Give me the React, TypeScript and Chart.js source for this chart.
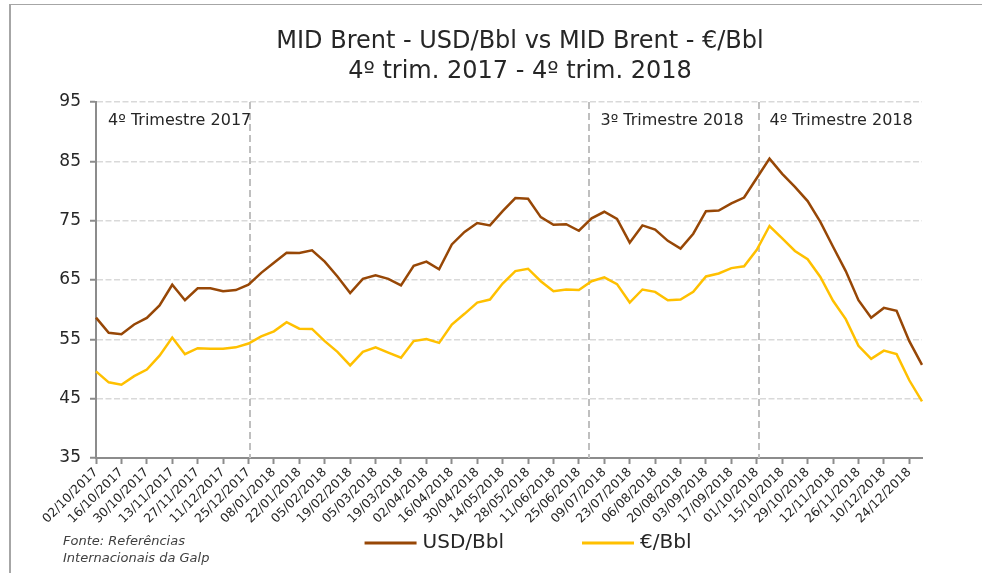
import React, { useEffect, useRef } from "react";
import { Chart, registerables } from "chart.js";

Chart.register(...registerables);

const weekLabels: string[] = [
  "02/10/2017", "09/10/2017", "16/10/2017", "23/10/2017", "30/10/2017", "06/11/2017",
  "13/11/2017", "20/11/2017", "27/11/2017", "04/12/2017", "11/12/2017", "18/12/2017",
  "25/12/2017", "01/01/2018", "08/01/2018", "15/01/2018", "22/01/2018", "29/01/2018",
  "05/02/2018", "12/02/2018", "19/02/2018", "26/02/2018", "05/03/2018", "12/03/2018",
  "19/03/2018", "26/03/2018", "02/04/2018", "09/04/2018", "16/04/2018", "23/04/2018",
  "30/04/2018", "07/05/2018", "14/05/2018", "21/05/2018", "28/05/2018", "04/06/2018",
  "11/06/2018", "18/06/2018", "25/06/2018", "02/07/2018", "09/07/2018", "16/07/2018",
  "23/07/2018", "30/07/2018", "06/08/2018", "13/08/2018", "20/08/2018", "27/08/2018",
  "03/09/2018", "10/09/2018", "17/09/2018", "24/09/2018", "01/10/2018", "08/10/2018",
  "15/10/2018", "22/10/2018", "29/10/2018", "05/11/2018", "12/11/2018", "19/11/2018",
  "26/11/2018", "03/12/2018", "10/12/2018", "17/12/2018", "24/12/2018", "31/12/2018",
];

const usdPerBbl: number[] = [
  58.65, 56.1, 55.85, 57.5, 58.6, 60.7, 64.2, 61.6, 63.6, 63.6,
  63.1, 63.3, 64.2, 66.2, 67.9, 69.6, 69.55, 70.0, 68.1, 65.6,
  62.8, 65.2, 65.8, 65.2, 64.1, 67.4, 68.1, 66.8, 71.0, 73.1,
  74.6, 74.2, 76.6, 78.8, 78.7, 75.6, 74.3, 74.4, 73.3, 75.4,
  76.5, 75.3, 71.3, 74.2, 73.5, 71.6, 70.3, 72.8, 76.6, 76.7,
  77.9, 78.9, 82.2, 85.45, 82.9, 80.7, 78.3, 74.8, 70.6, 66.5,
  61.6, 58.65, 60.3, 59.8, 54.7, 50.7,
];

const eurPerBbl: number[] = [
  49.6, 47.75, 47.36, 48.8, 49.9, 52.25, 55.3, 52.5, 53.5, 53.4,
  53.4, 53.65, 54.3, 55.5, 56.35, 57.9, 56.8, 56.75, 54.7, 52.9,
  50.6, 52.9, 53.65, 52.75, 51.9, 54.7, 55.05, 54.4, 57.5, 59.3,
  61.2, 61.7, 64.4, 66.5, 66.9, 64.8, 63.1, 63.4, 63.3, 64.8,
  65.45, 64.3, 61.2, 63.4, 63.0, 61.6, 61.7, 63.0, 65.6, 66.1,
  67.0, 67.3, 70.1, 74.1, 72.0, 69.9, 68.5, 65.5, 61.5, 58.4,
  53.9, 51.7, 53.1, 52.5, 48.1, 44.55,
];

const seriesNames: string[] = ["USD/Bbl", "€/Bbl"];
const titleLines: string[] = ["MID Brent - USD/Bbl vs MID Brent - €/Bbl", "4º trim. 2017 - 4º trim. 2018"];
const sourceLines: string[] = ["Fonte: Referências", "Internacionais da Galp"];

// quarter separators (category index positions) and their captions (text start index)
const quarterLineAt: number[] = [12.1, 38.8, 52.2];
const quarterCaptions: string[] = ["4º Trimestre 2017", "3º Trimestre 2018", "4º Trimestre 2018"];
const quarterCaptionAt: number[] = [0.95, 39.7, 53.0];

const FONT = '"DejaVu Sans", sans-serif';
const TEXT = "#262626";

const decorPlugin = {
  id: "decor",
  beforeDatasetsDraw(chart: any) {
    const { ctx, chartArea, scales } = chart;
    const x = scales.x;
    ctx.save();
    ctx.strokeStyle = "#bfbfbf";
    ctx.lineWidth = 2;
    ctx.setLineDash([7, 4]);
    quarterLineAt.forEach((v) => {
      const px = Math.round(x.getPixelForValue(v));
      ctx.beginPath();
      ctx.moveTo(px, chartArea.top);
      ctx.lineTo(px, chartArea.bottom);
      ctx.stroke();
    });
    ctx.setLineDash([]);
    ctx.fillStyle = TEXT;
    ctx.font = `16px ${FONT}`;
    ctx.textBaseline = "middle";
    ctx.textAlign = "left";
    quarterCaptions.forEach((t, i) => {
      ctx.fillText(t, x.getPixelForValue(quarterCaptionAt[i]), chartArea.top + 19);
    });
    ctx.restore();
  },
  afterDraw(chart: any) {
    const { ctx, chartArea } = chart;
    ctx.save();
    const cx = (chartArea.left + chartArea.right) / 2 + 11;
    ctx.fillStyle = TEXT;
    ctx.font = `24px ${FONT}`;
    ctx.textAlign = "center";
    ctx.textBaseline = "middle";
    ctx.fillText(titleLines[0], cx, 42);
    ctx.fillText(titleLines[1], cx, 72);

    // legend
    ctx.font = `20px ${FONT}`;
    const lineW = 52;
    const gap = 6;
    const itemGap = 78;
    const widths = chart.data.datasets.map((d: any) => lineW + gap + ctx.measureText(d.label).width);
    const total = widths.reduce((a: number, b: number) => a + b, 0) + itemGap * (widths.length - 1);
    let lx = cx + 8 - total / 2;
    const ly = 543;
    chart.data.datasets.forEach((d: any, i: number) => {
      ctx.strokeStyle = d.borderColor;
      ctx.lineWidth = 3;
      ctx.beginPath();
      ctx.moveTo(lx, ly);
      ctx.lineTo(lx + lineW, ly);
      ctx.stroke();
      ctx.fillStyle = TEXT;
      ctx.textAlign = "left";
      ctx.fillText(d.label, lx + lineW + gap, ly);
      lx += widths[i] + itemGap;
    });

    // source
    ctx.font = `italic 13px ${FONT}`;
    ctx.fillStyle = "#404040";
    ctx.textAlign = "left";
    ctx.fillText(sourceLines[0], 63, 542);
    ctx.fillText(sourceLines[1], 63, 559);
    ctx.restore();
  },
};

export default function App() {
  const ref = useRef<HTMLCanvasElement | null>(null);

  useEffect(() => {
    if (!ref.current) return;
    const chart = new Chart(ref.current, {
      type: "line",
      data: {
        labels: weekLabels,
        datasets: [
          {
            label: seriesNames[0],
            data: usdPerBbl,
            borderColor: "#974706",
            backgroundColor: "#974706",
            borderWidth: 2.5,
            pointRadius: 0,
            tension: 0,
            fill: false,
          },
          {
            label: seriesNames[1],
            data: eurPerBbl,
            borderColor: "#FFC000",
            backgroundColor: "#FFC000",
            borderWidth: 2.5,
            pointRadius: 0,
            tension: 0,
            fill: false,
          },
        ],
      },
      options: {
        responsive: false,
        animation: false,
        layout: { padding: { left: 0, right: 60, top: 102, bottom: 0 } },
        plugins: {
          legend: { display: false },
          title: { display: false },
          tooltip: { enabled: false },
        },
        scales: {
          x: {
            type: "category",
            offset: false,
            afterFit: (s: any) => {
              s.height = 115;
            },
            border: { display: true, color: "#8c8c8c", width: 2 },
            grid: {
              drawOnChartArea: false,
              drawTicks: true,
              tickLength: 6,
              tickWidth: 2,
              tickColor: (c: any) => (c.index % 2 === 0 ? "#8c8c8c" : "rgba(0,0,0,0)"),
            },
            ticks: {
              autoSkip: false,
              minRotation: 45,
              maxRotation: 45,
              padding: 1,
              color: TEXT,
              font: { family: FONT, size: 12.5 },
              callback: (_v: any, i: number) => (i % 2 === 0 ? weekLabels[i] : ""),
            },
          },
          y: {
            min: 35,
            max: 95,
            afterFit: (s: any) => {
              s.width = 96;
            },
            border: { display: true, color: "#8c8c8c", width: 2, dash: [6, 2.5] },
            grid: {
              color: (c: any) => (c.index === 0 ? "rgba(0,0,0,0)" : "#d9d9d9"),
              lineWidth: 1.5,
              drawTicks: true,
              tickLength: 6,
              tickWidth: 2,
              tickColor: "#8c8c8c",
              tickBorderDash: [],
            },
            ticks: {
              stepSize: 10,
              padding: 9,
              color: TEXT,
              font: { family: FONT, size: 17 },
            },
          } as any,
        },
      },
      plugins: [decorPlugin],
    });
    return () => chart.destroy();
  }, []);

  return (
    <div style={{ position: "absolute", left: 0, top: 0, width: 982, height: 573, background: "#fff", overflow: "hidden" }}>
      <div
        style={{
          position: "absolute",
          left: 9,
          top: 4,
          right: 0,
          bottom: 0,
          borderTop: "1px solid #a6a6a6",
          borderLeft: "2px solid #a6a6a6",
        }}
      />
      <canvas ref={ref} width={982} height={573} style={{ position: "absolute", left: 0, top: 0 }} />
    </div>
  );
}
